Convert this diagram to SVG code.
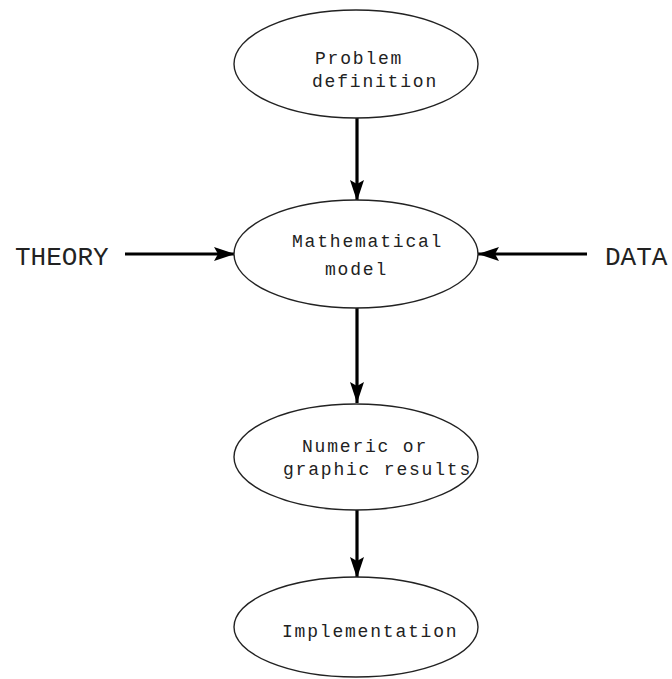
<svg xmlns="http://www.w3.org/2000/svg" width="672" height="679" viewBox="0 0 672 679">
<style>
.node ellipse{fill:#fff;stroke:#222;stroke-width:1.4}
.lbl{font-family:"Liberation Mono","Courier New",monospace;font-size:18px;letter-spacing:1.8px;fill:#222}
.side{font-family:"Liberation Mono","Courier New",monospace;font-size:26px;fill:#222}
.conn line{stroke:#000;stroke-width:3.2;marker-end:url(#ah)}
</style>
<defs>
<marker id="ah" markerUnits="userSpaceOnUse" markerWidth="22" markerHeight="14" refX="21" refY="7" orient="auto">
<path d="M0,0 L21,7 L0,14 L4,7 z" fill="#000"/>
</marker>
</defs>
<rect width="672" height="679" fill="#fff"/>
<g id="connectors" class="conn">
<line x1="357" y1="118" x2="357" y2="201"/>
<line x1="357" y1="308" x2="357" y2="403"/>
<line x1="357" y1="510" x2="357" y2="578"/>
<line x1="125" y1="254" x2="235" y2="254"/>
<line x1="587" y1="254" x2="478" y2="254"/>
</g>
<g id="problem" class="node">
<ellipse cx="356" cy="64" rx="122" ry="54"/>
<text class="lbl" x="315" y="64">Problem</text>
<text class="lbl" x="312" y="87">definition</text>
</g>
<g id="model" class="node">
<ellipse cx="356" cy="254" rx="122" ry="54"/>
<text class="lbl" x="292" y="247">Mathematical</text>
<text class="lbl" x="325" y="275">model</text>
</g>
<g id="results" class="node">
<ellipse cx="356" cy="457" rx="122" ry="53"/>
<text class="lbl" x="302" y="452">Numeric or</text>
<text class="lbl" x="283" y="475">graphic results</text>
</g>
<g id="implementation" class="node">
<ellipse cx="356" cy="627" rx="122" ry="50"/>
<text class="lbl" x="282" y="637">Implementation</text>
</g>
<g id="theory">
<text class="side" x="15" y="265">THEORY</text>
</g>
<g id="data">
<text class="side" x="605" y="265">DATA</text>
</g>
</svg>
